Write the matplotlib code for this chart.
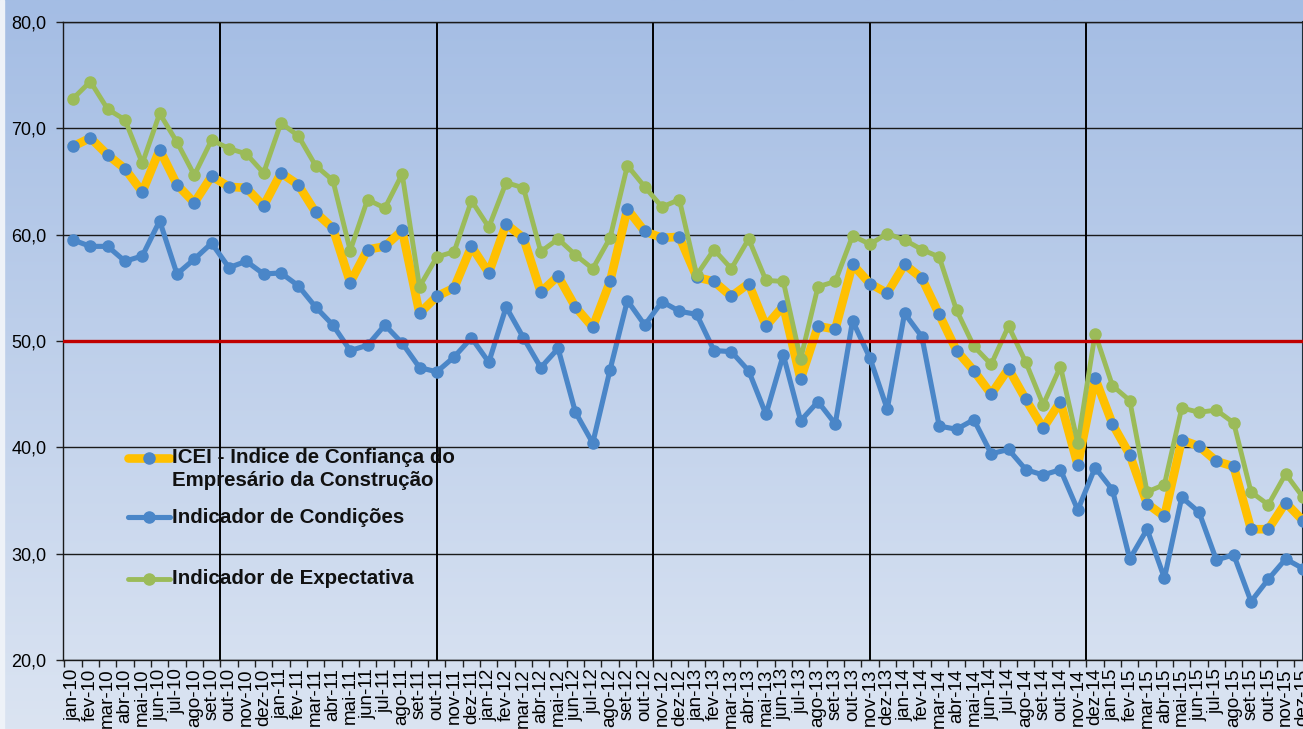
import numpy as np
import matplotlib.pyplot as plt

plt.rcParams['font.family'] = ['Liberation Sans', 'DejaVu Sans']

meses = ['jan', 'fev', 'mar', 'abr', 'mai', 'jun', 'jul', 'ago', 'set', 'out', 'nov', 'dez']
rotulos = [m + '-' + a for a in ['10', '11', '12', '13', '14', '15'] for m in meses]

icei = [68.3, 69.1, 67.5, 66.2, 64.0, 68.0, 64.7, 63.0, 65.5, 64.5, 64.4, 62.7,
        65.8, 64.7, 62.1, 60.6, 55.5, 58.6, 58.9, 60.4, 52.6, 54.2, 55.0, 58.9,
        56.4, 61.0, 59.7, 54.6, 56.1, 53.2, 51.3, 55.6, 62.4, 60.3, 59.7, 59.8,
        56.0, 55.6, 54.2, 55.4, 51.4, 53.3, 46.4, 51.4, 51.1, 57.2, 55.4, 54.5,
        57.2, 55.9, 52.5, 49.1, 47.2, 45.0, 47.4, 44.5, 41.8, 44.3, 38.3, 46.5,
        42.2, 39.3, 34.7, 33.5, 40.7, 40.1, 38.7, 38.2, 32.3, 32.3, 34.8, 33.1]

condicoes = [59.5, 58.9, 58.9, 57.5, 58.0, 61.3, 56.3, 57.7, 59.2, 56.9, 57.5, 56.3,
             56.4, 55.2, 53.2, 51.5, 49.1, 49.6, 51.5, 49.8, 47.5, 47.1, 48.5, 50.3,
             48.0, 53.2, 50.3, 47.5, 49.3, 43.3, 40.4, 47.3, 53.8, 51.5, 53.7, 52.8,
             52.5, 49.1, 49.0, 47.2, 43.1, 48.7, 42.5, 44.3, 42.2, 51.9, 48.4, 43.6,
             52.6, 50.4, 42.0, 41.7, 42.6, 39.4, 39.8, 37.9, 37.4, 37.9, 34.1, 38.1,
             36.0, 29.5, 32.3, 27.7, 35.3, 33.9, 29.4, 29.9, 25.5, 27.6, 29.5, 28.6]

expectativa = [72.8, 74.4, 71.8, 70.8, 66.7, 71.4, 68.7, 65.6, 68.9, 68.1, 67.6, 65.8,
               70.5, 69.3, 66.5, 65.1, 58.5, 63.3, 62.5, 65.7, 55.1, 57.9, 58.4, 63.2,
               60.7, 64.9, 64.4, 58.4, 59.6, 58.1, 56.8, 59.7, 66.5, 64.5, 62.6, 63.3,
               56.2, 58.6, 56.8, 59.6, 55.7, 55.6, 48.3, 55.1, 55.6, 59.9, 59.1, 60.1,
               59.5, 58.6, 57.9, 52.9, 49.5, 47.8, 51.4, 48.0, 44.0, 47.6, 40.4, 50.7,
               45.8, 44.4, 35.8, 36.5, 43.7, 43.3, 43.5, 42.3, 35.8, 34.6, 37.5, 35.3]

linha_ref = 50.0
divisoes = [8.5, 21, 33.5, 46, 58.5]

AMARELO = '#FFC000'
AZUL = '#4A86C8'
VERDE = '#9BBB59'
VERMELHO = '#C00000'

fig = plt.figure(figsize=(13.03, 7.29), dpi=100)

# fundo em degradê
bg = fig.add_axes([0, 0, 1, 1], zorder=-5)
topo = np.array([164, 189, 228]) / 255
base = np.array([219, 228, 242]) / 255
t = np.linspace(0, 1, 256)[:, None]
grad = (topo * (1 - t) + base * t)[:, None, :]
bg.imshow(grad, aspect='auto', extent=[0, 1, 0, 1])
bg.axvspan(0, 4 / 1303, color='#eef2f8')
bg.set_xlim(0, 1)
bg.set_ylim(0, 1)
bg.axis('off')

ax = fig.add_axes([63 / 1303, 69 / 729, 1240 / 1303, 638 / 729])
ax.patch.set_alpha(0)

x = np.arange(len(rotulos))
ax.plot(x, icei, color=AMARELO, lw=6.2, marker='o', ms=8, mfc=AZUL, mec=AZUL, zorder=3)
ax.plot(x, condicoes, color=AZUL, lw=3.7, marker='o', ms=8, zorder=4)
ax.plot(x, expectativa, color=VERDE, lw=3.5, marker='o', ms=8, zorder=5)
ax.axhline(linha_ref, color=VERMELHO, lw=2.4, zorder=6)
for d in divisoes:
    ax.axvline(d, color='black', lw=1.4, zorder=2)

ax.set_yticks(range(20, 81, 10))
ax.set_yticklabels([f'{v:.1f}'.replace('.', ',') for v in range(20, 81, 10)], fontsize=13)
ax.yaxis.grid(True, color='#1a1a1a', lw=1.0)
ax.set_axisbelow(True)

ax.set_xticks(x)
ax.set_xticklabels(rotulos, rotation=90, fontsize=13.5, va='top', ha='center')
ax.set_xticks(np.arange(-0.5, 72, 1), minor=True)
ax.tick_params(axis='x', which='major', length=0, pad=6)
ax.tick_params(axis='x', which='minor', length=5, width=1, color='#222')
ax.tick_params(axis='y', length=5, width=1, color='#222', pad=7)

# limites depois dos ticks (set_xticks alarga a escala)
ax.set_xlim(-0.58, 71.0)
ax.set_ylim(20, 80)

for s in ['left', 'bottom', 'top']:
    ax.spines[s].set_color('#1a1a1a')
    ax.spines[s].set_linewidth(1.0)
ax.spines['right'].set_color('#1f2f3a')
ax.spines['right'].set_linewidth(1.5)

# legenda
leg = [(AMARELO, 6.2, AZUL, 0.317, ['ICEI - Indice de Confiança do', 'Empresário da Construção']),
       (AZUL, 3.7, AZUL, 0.224, ['Indicador de Condições']),
       (VERDE, 3.5, VERDE, 0.127, ['Indicador de Expectativa'])]
for cor, lw, cm, yy, textos in leg:
    ax.plot([0.0524, 0.0863], [yy, yy], color=cor, lw=lw, transform=ax.transAxes,
            solid_capstyle='round', zorder=7)
    ax.plot([0.0694], [yy], marker='o', ms=8, color=cm, transform=ax.transAxes, zorder=8)
    for i, tx in enumerate(textos):
        ax.text(0.0879, yy - i * 0.035, tx, transform=ax.transAxes, fontsize=14.8,
                fontweight='bold', color='#111111', va='center', ha='left', zorder=8)

fig.savefig('out.png', dpi=100)
